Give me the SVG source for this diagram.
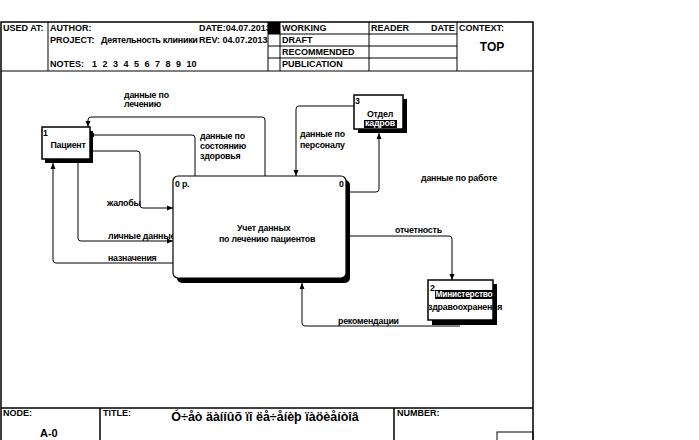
<svg xmlns="http://www.w3.org/2000/svg" width="699" height="440" viewBox="0 0 699 440">
<style>
.f{fill:none;stroke:#000;stroke-width:1}
.b{fill:none;stroke:#000;stroke-width:1.5}
.t{font-family:"Liberation Sans",Arial,sans-serif;font-weight:bold;font-size:9px;fill:#000}
.s{font-family:"Liberation Sans",Arial,sans-serif;font-weight:bold;font-size:8.8px;fill:#000;letter-spacing:-0.2px}
.w{fill:#fff}
.c{fill:none;stroke:#000;stroke-width:1}
</style>
<defs>
<marker id="ah" markerUnits="userSpaceOnUse" markerWidth="6" markerHeight="6" refX="6" refY="3" orient="auto">
<path d="M0,0.5 L6,3 L0,5.5 z" fill="#000"/>
</marker>
</defs>
<rect width="699" height="440" fill="#fff"/>
<g id="frame">
<path class="b" d="M1,440 V22 H533 V440"/>
<path class="f" d="M1,71 H533 M48,22 V71 M268,22 V71 M280,22 V71 M369,22 V71 M457,22 V71 M268,34 H457 M268,46 H457 M268,58 H457"/>
<path class="b" d="M1,408 H533 M100,408 V440 M394,408 V440"/>
<rect x="497" y="432" width="36" height="9" class="f"/>
<text class="t" x="3" y="31">USED AT:</text>
<text class="t" x="50" y="31">AUTHOR:</text>
<text class="t" x="199" y="31">DATE:04.07.2013</text>
<text class="t" x="50" y="43">PROJECT:</text>
<text class="t" x="101" y="43" style="letter-spacing:-0.3px">Деятельность клиники</text>
<text class="t" x="199" y="43">REV: 04.07.2013</text>
<text class="t" x="50" y="67">NOTES:</text>
<text class="t" x="92" y="67">1</text><text class="t" x="102.5" y="67">2</text><text class="t" x="113" y="67">3</text><text class="t" x="123.5" y="67">4</text><text class="t" x="134" y="67">5</text><text class="t" x="144.5" y="67">6</text><text class="t" x="155" y="67">7</text><text class="t" x="165.5" y="67">8</text><text class="t" x="176" y="67">9</text><text class="t" x="186.5" y="67">10</text>
<rect x="268" y="22" width="12" height="12" fill="#000"/>
<text class="t" x="282" y="31">WORKING</text>
<text class="t" x="282" y="43">DRAFT</text>
<text class="t" x="282" y="55">RECOMMENDED</text>
<text class="t" x="282" y="67">PUBLICATION</text>
<text class="t" x="371" y="31">READER</text>
<text class="t" x="431" y="31">DATE</text>
<text class="t" x="459" y="31">CONTEXT:</text>
<text class="t" x="492" y="51" text-anchor="middle" style="font-size:12px">TOP</text>
<text class="t" x="3" y="416">NODE:</text>
<text class="t" x="40" y="437" style="font-size:11px">A-0</text>
<text class="t" x="103" y="416">TITLE:</text>
<text class="t" x="265" y="421" text-anchor="middle" style="font-size:12.5px">Ó÷åò äàííûõ  ïî ëå÷åíèþ ïàöèåíòîâ</text>
<text class="t" x="397" y="416">NUMBER:</text>
</g>
<g id="connectors">
<path class="c" d="M265,176 V120 Q265,117 262,117 H91 Q88,117 88,120 V127" marker-end="url(#ah)"/>
<path class="c" d="M92,135 H192 Q195,135 195,138 V176"/>
<rect x="90" y="133" width="4" height="4" fill="#000"/>
<path class="c" d="M93,151 H137 Q140,151 140,154 V205 Q140,208 143,208 H173" marker-end="url(#ah)"/>
<path class="c" d="M78,163 V238 Q78,241 81,241 H173" marker-end="url(#ah)"/>
<path class="c" d="M173,263 H56 Q53,263 53,260 V163" marker-end="url(#ah)"/>
<path class="c" d="M354,106 H299 Q296,106 296,109 V176" marker-end="url(#ah)"/>
<path class="c" d="M350,192 H376 Q379,192 379,189 V133" marker-end="url(#ah)"/>
<path class="c" d="M350,236 H449 Q452,236 452,239 V280" marker-end="url(#ah)"/>
<path class="c" d="M460,326 H305 Q302,326 302,323 V283" marker-end="url(#ah)"/>
<text class="s" x="124" y="98">данные по</text>
<text class="s" x="124" y="107">лечению</text>
<text class="s" x="200" y="139">данные по</text>
<text class="s" x="200" y="149">состоянию</text>
<text class="s" x="200" y="159">здоровья</text>
<text class="s" x="107" y="206">жалобы</text>
<text class="s" x="108" y="239">личные данные</text>
<text class="s" x="108" y="261">назначения</text>
<text class="s" x="300" y="137">данные по</text>
<text class="s" x="300" y="148">персоналу</text>
<text class="s" x="421" y="181">данные по работе</text>
<text class="s" x="395" y="233">отчетность</text>
<text class="s" x="338" y="324">рекомендации</text>
</g>
<g id="node1">
<rect x="45" y="131" width="48" height="32" fill="#000"/>
<rect x="42" y="127" width="48" height="32" fill="#fff" stroke="#000" stroke-width="1.5"/>
<text class="s" x="43" y="136">1</text>
<text class="s" x="68" y="148" text-anchor="middle">Пациент</text>
</g>
<g id="node0">
<rect x="177" y="180" width="173" height="103" rx="5" fill="#000"/>
<rect x="173" y="176" width="173" height="102" rx="5" fill="#fff" stroke="#000" stroke-width="1.2"/>
<text class="s" x="175" y="187">0 р.</text>
<text class="s" x="339" y="187">0</text>
<text class="s" x="237" y="231">Учет данных</text>
<text class="s" x="219" y="242">по лечению пациентов</text>
</g>
<g id="node3">
<rect x="358" y="99" width="49" height="34" fill="#000"/>
<rect x="354" y="95" width="49" height="34" fill="#fff" stroke="#000" stroke-width="1.5"/>
<text class="s" x="355" y="104">3</text>
<text class="s" x="380" y="117" text-anchor="middle">Отдел</text>
<rect x="364" y="120" width="33" height="8" fill="#000"/>
<text class="s w" x="380" y="126" text-anchor="middle">кадров</text>
</g>
<g id="node2">
<rect x="432" y="284" width="65" height="41" fill="#000"/>
<rect x="428" y="280" width="65" height="40" fill="#fff" stroke="#000" stroke-width="1.5"/>
<text class="s" x="430" y="291">2</text>
<rect x="435" y="290" width="59" height="9" fill="#000"/>
<text class="s w" x="464" y="297" text-anchor="middle" style="font-size:8.3px">Министерство</text>
<text class="s" x="428" y="310">здравоохранения</text>
</g>
</svg>
